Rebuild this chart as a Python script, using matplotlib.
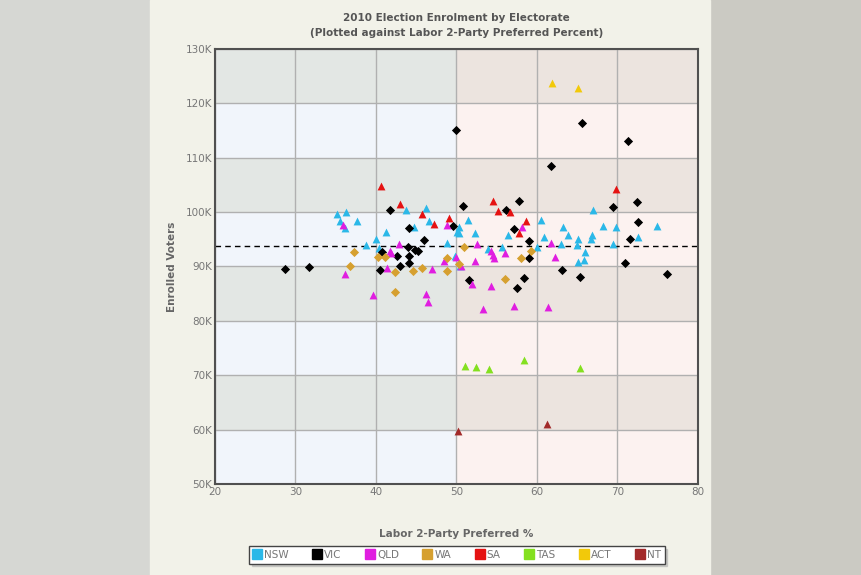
import numpy as np
import matplotlib
matplotlib.use("Agg")
import matplotlib.pyplot as plt
from matplotlib.lines import Line2D
from matplotlib.patches import Rectangle

# Labor 2PP % and enrolment (thousands) per electorate
nsw_x = [35.2, 35.5, 36.3, 36.1, 37.6, 38.8, 40.0, 40.4, 41.2, 43.7, 44.7, 46.2, 46.6, 48.8,
         50.1, 49.8, 51.4, 50.3, 50.3, 52.3, 56.4, 55.7, 53.9, 50.4, 60.5, 60.9, 60.0, 63.0,
         63.2, 63.9, 67.0, 65.1, 65.0, 66.8, 66.7, 68.2, 69.8, 69.4, 72.5, 74.9, 66.0, 65.8, 65.1]
nsw_y = [99.7, 98.4, 100.0, 97.1, 98.4, 94.0, 95.1, 93.4, 96.3, 100.4, 97.3, 100.8, 98.4, 94.3,
         96.3, 91.9, 98.6, 97.2, 96.2, 96.2, 95.7, 93.6, 93.2, 90.0, 98.6, 95.5, 93.6, 94.1,
         97.3, 95.8, 100.4, 95.1, 94.0, 95.8, 95.1, 97.5, 97.3, 94.1, 95.4, 97.5, 92.6, 91.2, 90.8]

vic_x = [28.7, 31.7, 41.7, 44.1, 46.0, 44.0, 44.9, 45.2, 42.6, 44.1, 44.1, 43.0, 40.5, 40.8,
         49.6, 50.0, 65.6, 71.3, 61.7, 50.8, 56.1, 57.8, 57.2, 59.0, 59.0, 51.5, 58.4, 57.5,
         63.1, 65.4, 69.4, 72.4, 72.5, 71.6, 70.9, 76.1]
vic_y = [89.5, 89.9, 100.4, 97.1, 94.9, 93.5, 93.0, 92.8, 92.0, 91.9, 90.7, 90.0, 89.4, 92.6,
         97.5, 115.1, 116.3, 113.1, 108.5, 101.1, 100.3, 102.1, 96.9, 94.7, 91.6, 87.5, 87.8, 86.0,
         89.4, 88.0, 100.9, 101.8, 98.1, 95.0, 90.6, 88.6]

qld_x = [35.9, 36.1, 39.6, 41.7, 41.4, 42.8, 47.0, 46.2, 46.5, 48.8, 48.4, 50.0, 50.6, 52.5,
         52.3, 51.9, 54.3, 54.5, 54.7, 56.0, 54.3, 53.3, 57.1, 58.1, 61.7, 62.2, 61.4, 41.9]
qld_y = [97.6, 88.6, 84.8, 92.9, 89.8, 94.1, 89.5, 84.9, 83.5, 97.6, 91.0, 91.8, 90.0, 94.1,
         91.0, 86.7, 92.9, 92.1, 91.6, 92.5, 86.5, 82.2, 82.8, 97.2, 94.3, 91.8, 82.6, 92.4]

wa_x = [37.3, 36.8, 40.2, 41.1, 42.4, 42.4, 44.6, 45.7, 48.8, 48.8, 50.9, 50.3, 56.0, 58.0, 59.3]
wa_y = [92.6, 90.0, 91.8, 91.8, 88.9, 85.3, 89.2, 89.7, 89.2, 91.5, 93.5, 90.4, 87.7, 91.5, 92.9]

sa_x = [40.6, 43.0, 45.7, 47.2, 49.1, 54.5, 55.1, 56.6, 58.6, 57.8, 69.8]
sa_y = [104.8, 101.4, 99.6, 97.8, 99.0, 102.0, 100.2, 100.1, 98.4, 96.1, 104.2]

tas_x = [51.1, 52.4, 54.1, 58.4, 65.3]
tas_y = [71.7, 71.6, 71.1, 72.8, 71.3]

act_x = [61.9, 65.1]
act_y = [123.8, 122.8]

nt_x = [50.2, 61.2]
nt_y = [59.8, 61.0]

avg_enrolment = 93.7
x_ticks = [20, 30, 40, 50, 60, 70, 80]
y_ticks = [50, 60, 70, 80, 90, 100, 110, 120, 130]

series = [
    ("NSW", nsw_x, nsw_y, "#2bb8e8", "^"),
    ("VIC", vic_x, vic_y, "#000000", "D"),
    ("QLD", qld_x, qld_y, "#e01ee0", "^"),
    ("WA", wa_x, wa_y, "#d6a030", "D"),
    ("SA", sa_x, sa_y, "#e51212", "^"),
    ("TAS", tas_x, tas_y, "#84e020", "^"),
    ("ACT", act_x, act_y, "#f2c90a", "^"),
    ("NT", nt_x, nt_y, "#a22a2a", "^"),
]

fig = plt.figure(figsize=(8.62, 5.75), dpi=100)
fig.patch.set_facecolor("#d6d7d3")
# outer photo-like strips and the cream centre panel
fig.add_artist(Rectangle((0.82, 0), 0.18, 1, transform=fig.transFigure, color="#cbcac3", zorder=0))
fig.add_artist(Rectangle((0.174, 0), 0.65, 1, transform=fig.transFigure, color="#f2f2e9", zorder=0))

ax = fig.add_axes([0.2494, 0.1583, 0.5603, 0.7565])
ax.set_xlim(20, 80)
ax.set_ylim(50, 130)

# alternating bands, bluish left of 50%, pinkish right of it
for i in range(len(y_ticks) - 1):
    lo = y_ticks[i]
    dark = (i % 2 == 1)
    left_c = "#e3e7e4" if dark else "#f1f5fb"
    right_c = "#ece4df" if dark else "#fcf2f0"
    ax.add_patch(Rectangle((20, lo), 30, 10, color=left_c, zorder=0, lw=0))
    ax.add_patch(Rectangle((50, lo), 30, 10, color=right_c, zorder=0, lw=0))

ax.set_xticks(x_ticks)
ax.set_yticks(y_ticks)
ax.set_yticklabels([f"{v}K" for v in y_ticks])
ax.grid(True, color="#b0b0b0", lw=1.0, zorder=1)
ax.tick_params(length=0, labelsize=7.5, labelcolor="#777777", pad=2)
for s in ax.spines.values():
    s.set_color("#505050")
    s.set_linewidth(1.5)

ax.axhline(avg_enrolment, color="black", lw=1.0, ls=(0, (4, 3)), zorder=2)

for name, xs, ys, col, mk in series:
    size = 32 if mk == "^" else 22
    ax.scatter(xs, ys, s=size, marker=mk, color=col, lw=0, zorder=3)

ax.set_xlabel("Labor 2-Party Preferred %", fontsize=7.5, fontweight="bold",
              color="#666666", labelpad=23)
ax.set_ylabel("Enrolled Voters", fontsize=7.5, fontweight="bold", color="#666666", labelpad=6)

fig.text(0.530, 0.968, "2010 Election Enrolment by Electorate", ha="center", va="center",
         fontsize=7.5, fontweight="bold", color="#555555")
fig.text(0.530, 0.942, "(Plotted against Labor 2-Party Preferred Percent)", ha="center",
         va="center", fontsize=7.5, fontweight="bold", color="#555555")

handles = [Line2D([], [], marker="s", ls="", color=c, markersize=6.5, label=n)
           for n, _, _, c, _ in series]
leg = fig.legend(handles=handles, loc="center", bbox_to_anchor=(0.530, 0.035), ncol=8,
                 fontsize=7.5, frameon=True, fancybox=False, shadow={"color": "#aaaaaa"},
                 handlelength=0.8, handletextpad=0.3, columnspacing=2.3,
                 borderpad=0.35)
leg.get_frame().set_edgecolor("#444444")
leg.get_frame().set_linewidth(1.0)
for t in leg.get_texts():
    t.set_color("#777777")

fig.savefig("out.png", dpi=100)
